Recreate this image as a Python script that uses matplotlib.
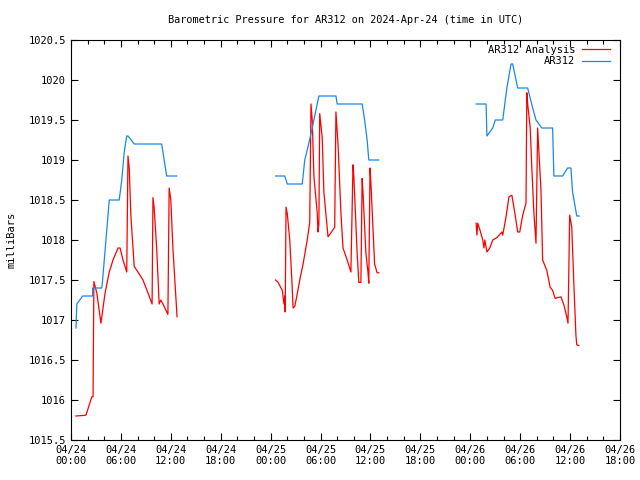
import numpy as np
import matplotlib
matplotlib.use("Agg")
import matplotlib.pyplot as plt

nan = np.nan

# hours since 2024-04-24 00:00 UTC
obs_hours = [0.6, 0.7, 1.4, 2.6, 2.6, 3.7, 3.8, 4.2, 4.6, 5.8, 6.1, 6.4, 6.7, 6.85, 7.6, 10.9, 11.5, 12.7,
             nan,
             24.6, 25.7, 26.0, 27.8, 28.1, 28.5, 29.0, 29.6, 29.8, 31.85, 32.0, 35.0, 35.3, 35.6, 35.8, 37.0,
             nan,
             48.7, 49.9, 50.0, 50.7, 51.0, 51.9, 52.4, 52.9, 53.1, 53.7, 54.9, 55.5, 55.9, 56.6, 57.9, 58.05,
             59.1, 59.7, 60.1, 60.3, 60.8, 61.1]
obs_mbar = [1016.9, 1017.2, 1017.3, 1017.3, 1017.4, 1017.4, 1017.5, 1018.0, 1018.5, 1018.5, 1018.75, 1019.1, 1019.3, 1019.3, 1019.2, 1019.2, 1018.8, 1018.8,
            nan,
            1018.8, 1018.8, 1018.7, 1018.7, 1019.0, 1019.17, 1019.4, 1019.7, 1019.8, 1019.8, 1019.7, 1019.7, 1019.5, 1019.25, 1019.0, 1019.0,
            nan,
            1019.7, 1019.7, 1019.3, 1019.4, 1019.5, 1019.5, 1019.9, 1020.2, 1020.2, 1019.9, 1019.9, 1019.65, 1019.5, 1019.4, 1019.4, 1018.8,
            1018.8, 1018.9, 1018.9, 1018.6, 1018.3, 1018.3]

ana_hours = [0.6, 1.8, 2.5, 2.65, 2.75, 3.1, 3.6, 4.1, 4.6, 5.05, 5.65, 5.9, 6.25, 6.7, 6.85, 7.0, 7.2, 7.6,
             8.05, 8.65, 9.25, 9.75, 9.85, 10.0, 10.3, 10.6, 10.8, 11.05, 11.65, 11.8, 12.0, 12.25, 12.75,
             nan,
             24.6, 24.9, 25.4, 25.6, 25.7, 25.75, 25.85, 26.0, 26.3, 26.55, 26.7, 26.9, 27.15, 27.5, 27.9, 28.4,
             28.7, 28.85, 29.0, 29.2, 29.6, 29.7, 29.8, 29.9, 30.2, 30.4, 30.8, 30.9, 31.25, 31.7, 31.85, 32.1,
             32.45, 32.7, 33.2, 33.65, 33.9, 34.0, 34.4, 34.6, 34.85, 35.0, 35.1, 35.45, 35.7, 35.8, 35.95,
             36.05, 36.5, 36.8, 37.0,
             nan,
             48.7, 48.8, 48.9, 49.15, 49.5, 49.65, 49.75, 50.0, 50.35, 50.7, 51.2, 51.8, 51.9, 52.3, 52.65,
             53.0, 53.4, 53.7, 53.95, 54.3, 54.7, 54.8, 54.9, 55.2, 55.4, 55.65, 55.9, 56.0, 56.1, 56.25,
             56.5, 56.7, 57.2, 57.6, 57.9, 58.2, 58.9, 59.25, 59.6, 59.75, 59.95, 60.2, 60.45, 60.7, 60.8, 61.05]
ana_mbar = [1015.8, 1015.81, 1016.04, 1016.04, 1017.48, 1017.34, 1016.96, 1017.34, 1017.6, 1017.75, 1017.9, 1017.9, 1017.75, 1017.6,
            1019.05, 1018.9, 1018.3, 1017.67, 1017.6, 1017.5, 1017.34, 1017.2, 1018.53, 1018.4, 1017.9, 1017.2, 1017.25, 1017.2,
            1017.07, 1018.65, 1018.5, 1017.9, 1017.04,
            nan,
            1017.5, 1017.47, 1017.37, 1017.2, 1017.3, 1017.1, 1018.41, 1018.33, 1018.0, 1017.5, 1017.15, 1017.17, 1017.3, 1017.5,
            1017.7, 1018.0, 1018.22, 1019.7, 1019.5, 1018.8, 1018.34, 1018.1, 1018.2, 1019.58, 1019.28, 1018.6, 1018.14, 1018.04,
            1018.09, 1018.16, 1019.6, 1019.2, 1018.34, 1017.9, 1017.75, 1017.6, 1018.94, 1018.8, 1017.84, 1017.47, 1017.47,
            1018.77, 1018.6, 1017.84, 1017.6, 1017.46, 1018.9, 1018.72, 1017.7, 1017.59, 1017.59,
            nan,
            1018.21, 1018.06, 1018.21, 1018.13, 1018.0, 1017.9, 1018.0, 1017.85, 1017.9, 1018.0, 1018.03, 1018.1, 1018.06,
            1018.29, 1018.54, 1018.56, 1018.31, 1018.1, 1018.1, 1018.31, 1018.46, 1019.84, 1019.7, 1019.41, 1018.9, 1018.34,
            1017.96, 1018.66, 1019.4, 1019.1, 1018.62, 1017.75, 1017.62, 1017.41, 1017.37, 1017.27, 1017.29, 1017.19, 1017.04,
            1016.96, 1018.31, 1018.16, 1017.46, 1016.81, 1016.69, 1016.68]

tick_hours = list(range(0, 67, 6))
tick_labels = ["04/24\n00:00", "04/24\n06:00", "04/24\n12:00", "04/24\n18:00",
               "04/25\n00:00", "04/25\n06:00", "04/25\n12:00", "04/25\n18:00",
               "04/26\n00:00", "04/26\n06:00", "04/26\n12:00", "04/26\n18:00"]
y_ticks = [1015.5, 1016, 1016.5, 1017, 1017.5, 1018, 1018.5, 1019, 1019.5, 1020, 1020.5]

plt.rcParams['font.family'] = 'DejaVu Sans Mono'
plt.rcParams['font.size'] = 7.5

fig = plt.figure(figsize=(6.4, 4.8), dpi=100)
ax = fig.add_axes([71/640, 40/480, 549/640, 400/480])

ax.plot(ana_hours, ana_mbar, color='red', lw=0.9, label='AR312 Analysis')
ax.plot(obs_hours, obs_mbar, color='#1a87e8', lw=0.9, label='AR312')

ax.set_xlim(0, 66)
ax.set_ylim(1015.5, 1020.5)
ax.set_xticks(tick_hours)
ax.set_xticklabels(tick_labels)
ax.set_xticks(np.arange(0, 67, 2), minor=True)
ax.set_yticks(y_ticks)
ax.set_yticklabels([f"{v:g}" for v in y_ticks])
ax.tick_params(which='both', direction='in', top=True, right=True, width=0.8)
ax.tick_params(which='major', length=5)
ax.tick_params(which='minor', length=3)
ax.set_ylabel('milliBars', labelpad=9)
ax.set_title('Barometric Pressure for AR312 on 2024-Apr-24 (time in UTC)', fontsize=7.4, pad=12)
ax.legend(loc='upper right', bbox_to_anchor=(1.0, 1.013), frameon=False, markerfirst=False,
          handlelength=2.7, borderaxespad=0.55, labelspacing=0.15, handletextpad=0.65)

fig.savefig('out.png', dpi=100)
